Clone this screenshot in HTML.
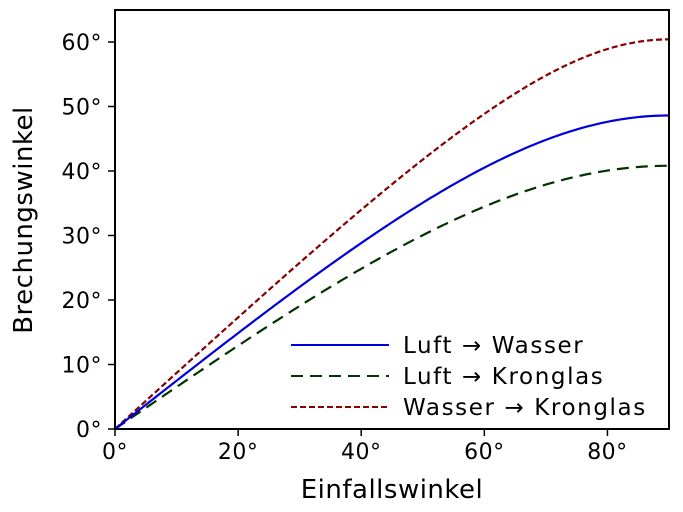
<!DOCTYPE html>
<html><head><meta charset="utf-8"><style>
body{margin:0;background:#fff}
svg{display:block;font-family:"DejaVu Sans","Liberation Sans",sans-serif}
</style></head><body>
<svg id="s" width="683" height="512" viewBox="0 0 683 512">
<g id="curves" fill="none" stroke-width="2.2"></g>
<rect x="115" y="10" width="554" height="419" fill="none" stroke="#000" stroke-width="2"/>
<g stroke="#000" stroke-width="1.5" id="ticks"></g>
<g font-size="22" fill="#000" id="labels" letter-spacing="0.5"></g>
<text x="392" y="498" font-size="26" text-anchor="middle" letter-spacing="0.5">Einfallswinkel</text>
<text transform="translate(32,220) rotate(-90)" font-size="26" text-anchor="middle" letter-spacing="0.5">Brechungswinkel</text>
<g font-size="23" letter-spacing="1.6">
<line x1="291" y1="345" x2="389" y2="345" stroke="#0000dd" stroke-width="2"/>
<text x="403" y="353">Luft → Wasser</text>
<line x1="291" y1="376" x2="389" y2="376" stroke="#003300" stroke-width="2" stroke-dasharray="12,7"/>
<text x="403" y="384">Luft → Kronglas</text>
<line x1="291" y1="407" x2="389" y2="407" stroke="#880000" stroke-width="2" stroke-dasharray="6,3"/>
<text x="403" y="415">Wasser → Kronglas</text>
</g>
</svg>
<script>
var X=a=>115+a*554/90, Y=b=>429-b*(387/60);
var ns="http://www.w3.org/2000/svg";
function el(t,at,p){var e=document.createElementNS(ns,t);for(var k in at)e.setAttribute(k,at[k]);p.appendChild(e);return e;}
var C=document.getElementById('curves');
[[1.15,"#880000","6,3"],[1.53,"#003300","12,7"],[1.333,"#0000dd",""]].forEach(function(c){
var d="";for(var a=0;a<=90;a+=0.5){var r=Math.asin(Math.sin(a*Math.PI/180)/c[0])*180/Math.PI;d+=(a?"L":"M")+X(a).toFixed(2)+","+Y(r).toFixed(2);}
var at={d:d,stroke:c[1]};if(c[2])at["stroke-dasharray"]=c[2];el('path',at,C);});
var T=document.getElementById('ticks'),L=document.getElementById('labels');
[0,20,40,60,80].forEach(function(v){el('line',{x1:X(v),x2:X(v),y1:429,y2:436},T);var t=el('text',{x:X(v),y:459,"text-anchor":"middle"},L);t.textContent=v+"°";});
[0,10,20,30,40,50,60].forEach(function(v){el('line',{x1:108,x2:115,y1:Y(v),y2:Y(v)},T);var t=el('text',{x:102,y:Y(v)+8,"text-anchor":"end"},L);t.textContent=v+"°";});
</script>
</body></html>
